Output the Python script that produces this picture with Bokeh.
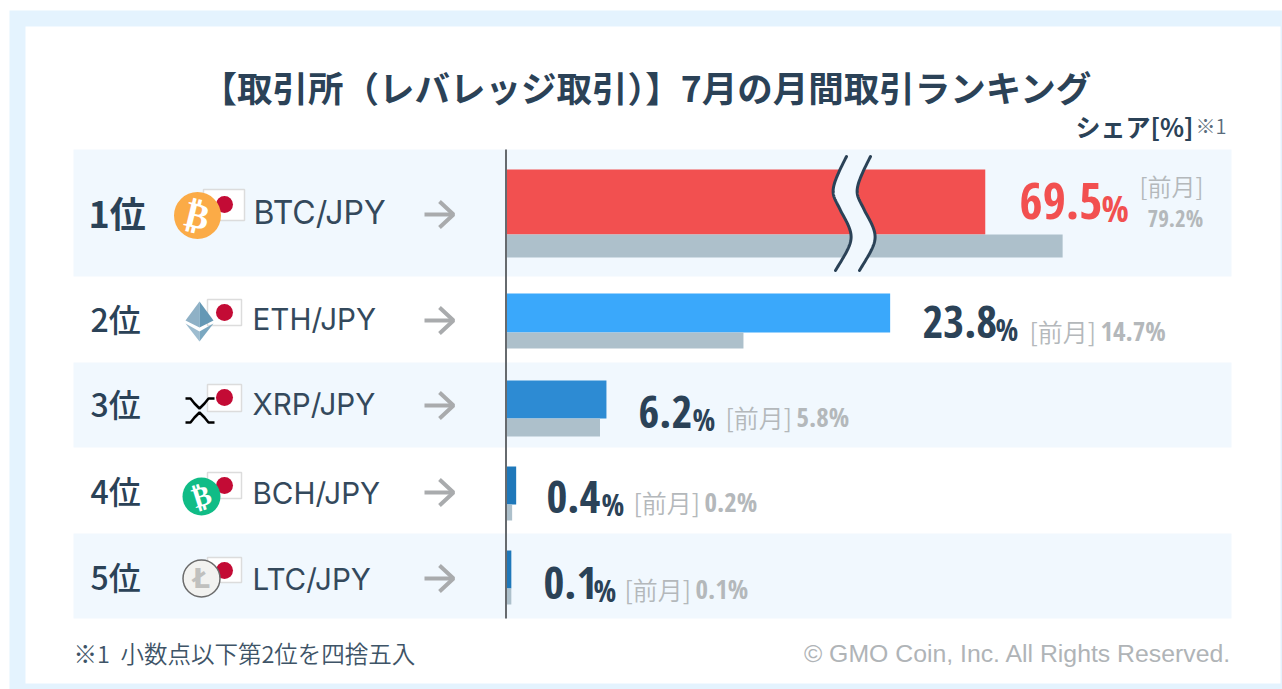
import numpy as np
from bokeh.plotting import figure
from bokeh.models import Range1d
from bokeh.core.properties import value
from bokeh.embed import file_html
from bokeh.resources import INLINE

# --- data ---
ranks = ["1位", "2位", "3位", "4位", "5位"]
pairs = ["BTC/JPY", "ETH/JPY", "XRP/JPY", "BCH/JPY", "LTC/JPY"]
share_now = [69.5, 23.8, 6.2, 0.4, 0.1]
share_prev = [79.2, 14.7, 5.8, 0.2, 0.1]
# drawn lengths of the bars in %: the top row is drawn across an axis break
drawn_now = [29.7, 23.8, 6.2, 0.6, 0.3]
drawn_prev = [34.5, 14.7, 5.8, 0.35, 0.3]
title_text = "【取引所（レバレッジ取引）】7月の月間取引ランキング"
unit_text = "シェア[%]"
note_text = "※1\u00a0\u00a0小数点以下第2位を四捨五入"
credit_text = "© GMO Coin, Inc. All Rights Reserved."

# --- layout (page pixels, as y-down) ---
W, H = 1282, 689
BASE_X = 506
PX_PER_PCT = 16.12
NAVY = "#2b4257"
GREY = "#b4b8bb"
BAND = "#f1f8fe"
JPB = value("Noto Sans CJK JP")
JP = value("Noto Sans CJK JP Medium")
JPL = value("Noto Sans CJK JP DemiLight")
LATIN = value("Inter")
ARIAL = value("Liberation Sans")
NUM = value("Open Sans Condensed")

p = figure(width=W, height=H, output_backend="svg", toolbar_location=None,
           x_range=Range1d(0, W), y_range=Range1d(H, 0),
           min_border=0, outline_line_color=None, background_fill_color="#ffffff",
           border_fill_color="#ffffff")
p.axis.visible = False
p.grid.visible = False
p.extra_x_ranges["share"] = Range1d(-BASE_X / PX_PER_PCT, (W - BASE_X) / PX_PER_PCT)


def txt(x, y, s, size, color, font=JP, style="normal", align="left", angle=0):
    p.text([x], [y], text=[s], text_font=font, text_font_size=f"{size}px", text_color=color,
           text_font_style=style, text_align=align, text_baseline="middle", angle=angle)


# frame
p.quad(left=[9], right=[W], top=[10], bottom=[H], fill_color="#e4f3fe", line_color=None)
p.quad(left=[25], right=[1280], top=[26], bottom=[683], fill_color="#ffffff", line_color=None)

# bands
band_top = [149, 362, 533]
band_bot = [276, 447, 618]
p.quad(left=73, right=1231, top=band_top, bottom=band_bot, fill_color=BAND, line_color=None)

# bars
now_top = [169, 293, 380, 466, 550]
now_bot = [234, 332, 418, 504, 588]
prev_bot = [257, 348, 436, 520, 604]
now_colors = ["#f25050", "#3aa8fb", "#2d8bd3", "#1f78ba", "#1f78ba"]
p.quad(left=0, right=drawn_now, top=now_top, bottom=now_bot, fill_color=now_colors,
       line_color=None, x_range_name="share")
p.quad(left=0, right=drawn_prev, top=now_bot, bottom=prev_bot, fill_color="#adc0cb",
       line_color=None, x_range_name="share")

# axis break
t = np.linspace(0, 1, 60)
def bez(p0, p1, p2, p3):
    return ((1 - t) ** 3)[:, None] * p0 + (3 * (1 - t) ** 2 * t)[:, None] * p1 + \
        (3 * (1 - t) * t ** 2)[:, None] * p2 + (t ** 3)[:, None] * p3
a = np.array
s1 = bez(a([846., 156.]), a([826., 195.]), a([832., 192.]), a([841., 212.]))
s2 = bez(a([841., 212.]), a([856., 238.]), a([853., 240.]), a([835., 270.]))
left = np.vstack([s1, s2])
right = left + a([24., 0.])
poly = np.vstack([left, right[::-1]])
p.patch(poly[:, 0], poly[:, 1], fill_color=BAND, line_color=None)
p.line(left[:, 0], left[:, 1], line_color=NAVY, line_width=3, line_cap="round")
p.line(right[:, 0], right[:, 1], line_color=NAVY, line_width=3, line_cap="round")

# baseline
p.segment([505.5], [149], [505.5], [618], line_color="#666a6e", line_width=2)

# title etc.
txt(201, 86, title_text, 35.5, NAVY, font=JPB, style="bold")
txt(1193, 125, unit_text, 25, NAVY, font=JPB, style="bold", align="right")
txt(1195, 125, "※1", 20, "#5a6c7c", font=JPL)
txt(73, 652, note_text, 23.5, "#3e5467", font=JPL)
txt(1231, 653, credit_text, 24.8, "#b0b4b7", font=ARIAL, align="right")

# rows
row_y = [213, 319, 404, 491, 577]
rank_size = [36, 32, 32, 32, 32]
rank_x = [88, 90, 90, 90, 90]
pair_size = [32, 29.6, 29.6, 29.6, 29.6]
pair_x = [253, 252, 252, 252, 252]
for i in range(5):
    txt(rank_x[i], row_y[i] - 2, ranks[i], rank_size[i], NAVY, font=JPB if i == 0 else JP, style="bold")
    txt(pair_x[i], row_y[i] - 1 + (0 if i < 3 else 2), pairs[i], pair_size[i], "#34495c", font=LATIN)
    y = row_y[i] + 1
    p.line([424, 452], [y, y], line_color="#a9abad", line_width=4)
    p.line([439, 453, 439], [y - 13, y, y + 13], line_color="#a9abad", line_width=4)

# flags
flag_l = [203, 207, 207, 207, 207]
flag_r = [244, 241, 241, 241, 241]
flag_t = [189, 299, 384, 472, 557]
flag_b = [220, 325, 411, 498, 582]
p.quad(left=flag_l, right=flag_r, top=flag_t, bottom=flag_b, fill_color="#ffffff", line_color="#dcdcdc", line_width=1.5)
p.scatter([224, 224, 224, 224, 224], [204, 312, 397, 485, 570], size=17, fill_color="#c30b35", line_color=None)

# BTC icon
p.scatter([197], [215], size=47, fill_color="#fbab47", line_color=None)
txt(197, 215, "₿", 36, "#ffffff", font=value("DejaVu Sans"), style="bold", align="center", angle=-0.24)
# ETH icon
p.patch([199, 185, 199], [301, 320, 327], fill_color="#8fb1c6", line_color=None)
p.patch([199, 213, 199], [301, 320, 327], fill_color="#6498b5", line_color=None)
p.patch([185, 199, 199], [323, 331, 341], fill_color="#9dbccf", line_color=None)
p.patch([213, 199, 199], [323, 331, 341], fill_color="#7aa7c0", line_color=None)
# XRP icon
p.line([185, 190, 194, 199, 204, 208, 214], [398, 398, 403, 408, 403, 398, 398], line_color="#000000", line_width=2.5)
p.line([185, 190, 194, 199, 204, 208, 214], [422, 422, 417, 412, 417, 422, 422], line_color="#000000", line_width=2.5)
# BCH icon
p.scatter([201], [496], size=38, fill_color="#10bc86", line_color=None)
txt(201, 496, "₿", 28, "#ffffff", font=value("DejaVu Sans"), style="bold", align="center", angle=0.3)
# LTC icon
p.scatter([201], [578], size=37, fill_color="#f2f2f0", line_color="#6b6b6b", line_width=1.5)
txt(201, 578, "Ł", 27, "#c0c0be", font=value("DejaVu Sans"), style="bold", align="center")

# value labels
val_x = [1019, 922, 638, 546, 543]
val_y = [200, 321, 411, 496, 582]
pct_x = [1101, 995, 692, 601, 593]
pct_size = [36, 30, 30, 30, 30]
val_colors = ["#f25050", NAVY, NAVY, NAVY, NAVY]
val_size = [50, 45, 45, 45, 45]
for i in range(5):
    txt(val_x[i], val_y[i], f"{share_now[i]}", val_size[i], val_colors[i], font=NUM, style="bold")
    txt(pct_x[i], val_y[i] + 8, "%", pct_size[i], val_colors[i], font=NUM, style="bold")

# previous month labels
txt(1139, 185, "[前月]", 24, GREY, font=JPL)
txt(1147, 217, f"{share_prev[0]}%", 23, GREY, font=NUM, style="bold")
prev_x = [None, 1029, 725, 633, 624]
prev_y = [None, 330, 416, 501, 588]
for i in range(1, 5):
    txt(prev_x[i], prev_y[i], "[前月]", 25, GREY, font=JPL)
    txt(prev_x[i] + 71, prev_y[i], f"{share_prev[i]}%", 27, GREY, font=NUM, style="bold")

open("out.html", "w").write(file_html(p, INLINE))
